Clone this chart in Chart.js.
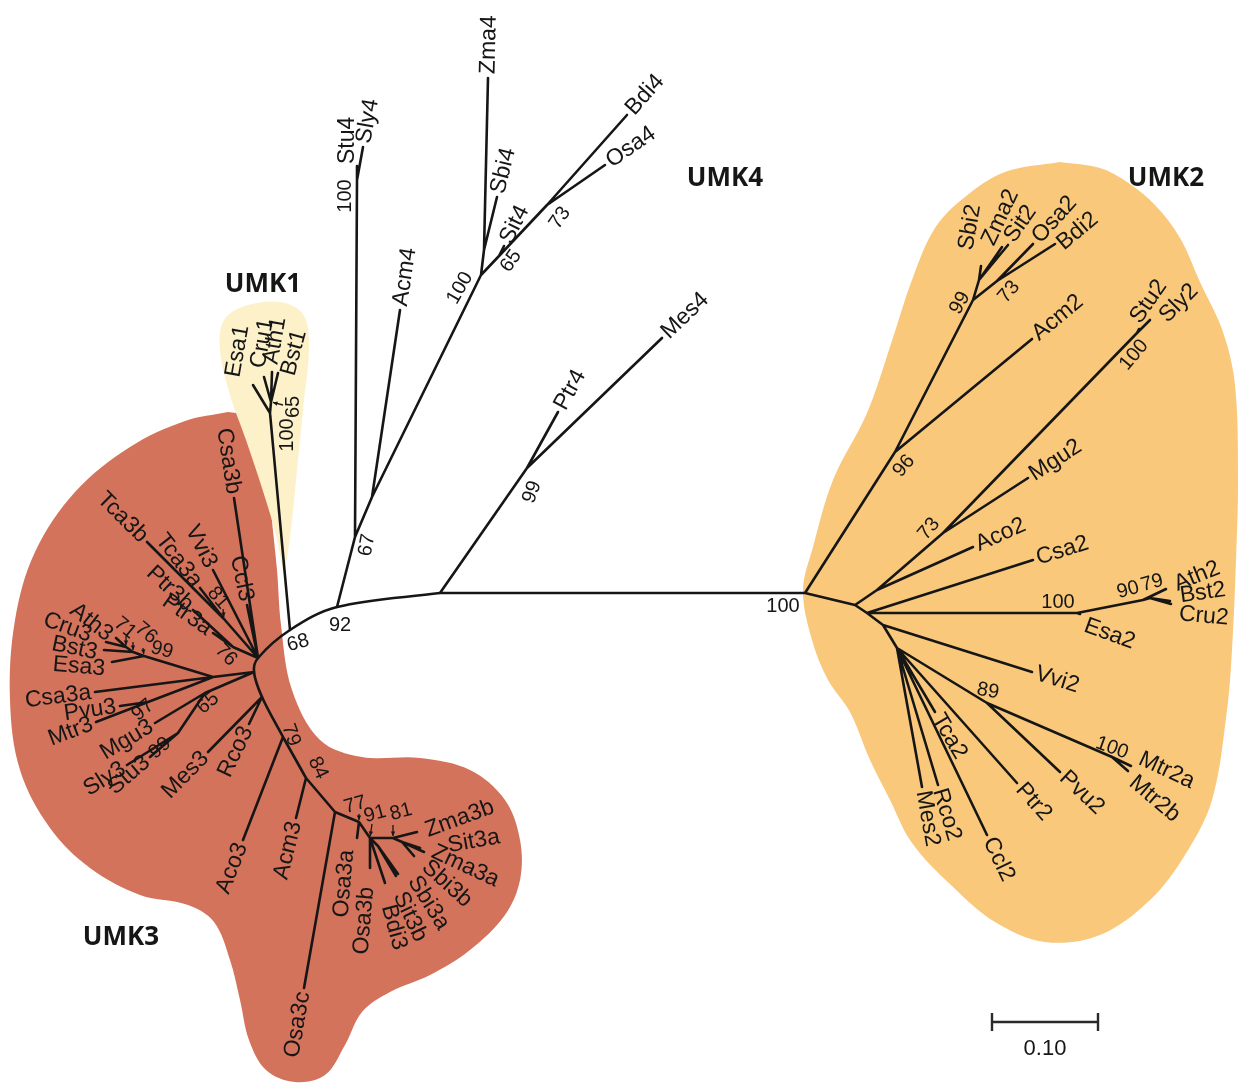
<!DOCTYPE html>
<html>
<head>
<meta charset="utf-8">
<script src="https://cdn.jsdelivr.net/npm/chart.js@4.4.1/dist/chart.umd.min.js"></script>
<style>
  html, body { margin: 0; padding: 0; background: #ffffff; }
  #wrap { width: 1239px; height: 1084px; }
</style>
</head>
<body>
<div id="wrap"><canvas id="tree" width="1239" height="1084"></canvas></div>
<script>
// Unrooted UMK tree. Each node: [name, parent, x, y] in layout units
// (y measured downward; the 0.10 scale bar spans 106 units).
// Internal nodes start with '#', everything else is a leaf.
const backboneNodes = [
  ['#b440', null, 440, 593],
  ['#b92', '#b440', 337, 607],
  ['#b68', '#b92', 290, 630],
  ['#b67', '#b92', 355, 537]
];
const umk4Nodes = [
  ['#p99', '#b440', 527, 468], ['Ptr4', '#p99', 558, 412], ['Mes4', '#p99', 662, 338],
  ['#s100', '#b67', 357, 180], ['Stu4', '#s100', 357, 166], ['Sly4', '#s100', 363, 147],
  ['#a4', '#b67', 372, 497], ['Acm4', '#a4', 400, 310],
  ['#z100', '#a4', 481, 275], ['#zs', '#z100', 484, 250],
  ['Zma4', '#zs', 488, 78], ['Sbi4', '#zs', 497, 197],
  ['#n65', '#z100', 499, 256], ['Sit4', '#n65', 504, 246],
  ['#n73', '#n65', 547, 205], ['Bdi4', '#n73', 627, 115], ['Osa4', '#n73', 605, 165]
];
const umk1Nodes = [
  ['#u100', '#b68', 270, 413], ['#u65', '#u100', 271, 402],
  ['Esa1', '#u100', 253, 385], ['Cru1', '#u65', 264, 377],
  ['Ath1', '#u65', 272, 372], ['Bst1', '#u65', 278, 373]
];
const umk3Nodes = [
  ['#h3', '#b68', 258, 658], ['Csa3b', '#h3', 234, 498], ['Ccl3', '#h3', 247, 605], ['Vvi3', '#h3', 213, 570],
  ['#t81', '#h3', 224, 619], ['Tca3b', '#t81', 147, 542], ['Tca3a', '#t81', 200, 588],
  ['#p76', '#h3', 233, 647], ['Ptr3b', '#p76', 193, 610], ['Ptr3a', '#p76', 213, 633],
  ['#hL', '#h3', 254, 672], ['#g', '#hL', 213, 677],
  ['#e99', '#g', 144, 656], ['Esa3', '#e99', 112, 662], ['#e76', '#e99', 133, 652],
  ['Bst3', '#e76', 104, 650], ['#e71', '#e76', 126, 647], ['Cru3', '#e71', 106, 642], ['Ath3', '#e71', 116, 638],
  ['Csa3a', '#g', 95, 692],
  ['#q', '#g', 190, 686], ['#p97', '#q', 148, 702], ['Pvu3', '#p97', 120, 706], ['Mtr3', '#p97', 96, 722],
  ['#k65', '#hL', 205, 693], ['Mgu3', '#k65', 155, 723], ['#s99', '#k65', 178, 733],
  ['Sly3', '#s99', 127, 765], ['Stu3', '#s99', 150, 757],
  ['#hM', '#hL', 262, 697], ['Mes3', '#hM', 208, 752], ['Rco3', '#hM', 249, 724],
  ['#n79', '#hM', 283, 737], ['Aco3', '#n79', 243, 840],
  ['#n84', '#n79', 306, 778], ['Acm3', '#n84', 296, 818],
  ['#n3c', '#n84', 335, 812], ['Osa3c', '#n3c', 304, 988],
  ['#n77', '#n3c', 359, 822], ['Osa3a', '#n77', 357, 838],
  ['#n91', '#n77', 370, 838], ['Osa3b', '#n91', 370, 868], ['Bdi3', '#n91', 385, 883],
  ['#nb', '#n91', 378, 846], ['Sit3b', '#nb', 396, 876], ['Sbi3a', '#nb', 398, 874],
  ['#n81', '#n91', 393, 838], ['Zma3b', '#n81', 417, 832], ['#ns', '#n81', 402, 842],
  ['Sit3a', '#ns', 420, 848], ['Zma3a', '#ns', 424, 852], ['Sbi3b', '#ns', 414, 856]
];
const umk2Nodes = [
  ['#b805', '#b440', 805, 593],
  ['#u96', '#b805', 895, 452], ['Acm2', '#u96', 1032, 339],
  ['#u99', '#u96', 973, 300], ['#us', '#u99', 979, 280],
  ['Sbi2', '#us', 981, 266], ['Zma2', '#us', 1002, 247], ['Sit2', '#us', 1008, 245],
  ['#u73', '#u99', 997, 281], ['Osa2', '#u73', 1033, 244], ['Bdi2', '#u73', 1055, 244],
  ['#h2a', '#b805', 855, 605], ['#k', '#h2a', 877, 590], ['Aco2', '#k', 973, 547],
  ['#g73', '#k', 943, 533], ['Mgu2', '#g73', 1028, 478],
  ['#st100', '#g73', 1137, 333], ['Stu2', '#st100', 1139, 329], ['Sly2', '#st100', 1150, 320],
  ['#h2b', '#h2a', 867, 613], ['Csa2', '#h2b', 1033, 560],
  ['#e100', '#h2b', 1077, 613], ['Esa2', '#e100', 1080, 614],
  ['#e90', '#e100', 1143, 600], ['Ath2', '#e90', 1166, 589],
  ['#e79', '#e90', 1150, 598], ['Bst2', '#e79', 1170, 601], ['Cru2', '#e79', 1171, 604],
  ['#h2c', '#h2b', 883, 625], ['Vvi2', '#h2c', 1032, 672],
  ['#f', '#h2c', 897, 648], ['Tca2', '#f', 935, 712], ['Mes2', '#f', 922, 787],
  ['Rco2', '#f', 938, 785], ['Ccl2', '#f', 987, 835], ['Ptr2', '#f', 1017, 783],
  ['#m89', '#f', 987, 703], ['Pvu2', '#m89', 1060, 772],
  ['#m100', '#m89', 1112, 757], ['Mtr2a', '#m100', 1131, 766], ['Mtr2b', '#m100', 1128, 771]
];

// Bootstrap support (%) at internal nodes
const supportValues = [
  ['#b805', 100], ['#p99', 99], ['#b92', 92], ['#b68', 68], ['#b67', 67],
  ['#s100', 100], ['#z100', 100], ['#n65', 65], ['#n73', 73],
  ['#u100', 100], ['#u65', 65],
  ['#t81', 81], ['#p76', 76], ['#e71', 71], ['#e76', 76], ['#e99', 99],
  ['#p97', 97], ['#k65', 65], ['#s99', 99], ['#n79', 79], ['#n84', 84],
  ['#n77', 77], ['#n91', 91], ['#n81', 81],
  ['#u96', 96], ['#u99', 99], ['#u73', 73], ['#g73', 73], ['#st100', 100],
  ['#e100', 100], ['#e90', 90], ['#e79', 79], ['#m89', 89], ['#m100', 100]
];

// Clade names
const cladeNames = ['UMK1', 'UMK2', 'UMK3', 'UMK4'];

// Scale bar
const scaleBarValue = 0.10;
const unitsPerSubstitution = 1060;

// ---- drawing setup (positions / styles) ----
// branches drawn as one smooth arc through the central part of the tree
const arcPath = ['#b440', '#b92', '#b68', '#h3', '#hL', '#hM', '#n79'];

// support label placement: [dx, dy, rotationDeg, arrowDx?, arrowDy?] relative to the node
const supportPlace = {
  '#b805': [-22, 13, 0], '#p99': [5, 24, -70], '#b92': [3, 18, 0], '#b68': [8, 13, -15],
  '#b67': [12, 8, -80], '#s100': [-12, 16, -90], '#z100': [-21, 13, -60],
  '#n65': [12, 5, -55], '#n73': [13, 13, -55],
  '#u100': [17, 22, -90], '#u65': [22, 5, -90, 12, 3],
  '#t81': [-6, -21, 50, -1, -10], '#p76': [-7, 8, 45],
  '#e71': [-1, -19, 40, 0, -11], '#e76': [13, -19, 40, 0, -10], '#e99': [18, -6, 15, -1, -8],
  '#p97': [-5, 8, -40], '#k65': [3, 10, -40], '#s99': [-18, 15, -40],
  '#n79': [8, -2, 70], '#n84': [12, -10, 65],
  '#n77': [-4, -17, -15, 0, -8], '#n91': [5, -24, -15, 2, -14], '#n81': [8, -26, -15, 0, -13],
  '#u96': [9, 14, -50], '#u99': [-13, 3, -60], '#u73': [12, 11, -50], '#g73': [-14, -4, -50],
  '#st100': [-3, 22, -50], '#e100': [-19, -11, 0], '#e90': [-15, -10, -15], '#e79': [2, -15, -15],
  '#m89': [1, -12, 10], '#m100': [0, -9, 20]
};

// leaf labels that do not simply follow their branch: [dx, dy, rotationDeg, align]
const leafPlace = {
  'Esa1': [-20, -8, -80, 'left'], 'Cru1': [-6, -9, -80, 'left'],
  'Ath1': [-1, -8, -80, 'left'], 'Bst1': [10, 2, -75, 'left'],
  'Stu4': [-9, -2, -90, 'left'],
  'Ath3': [-6, -1, 38, 'right'], 'Cru3': [-15, -6, 20, 'right'],
  'Bst3': [-7, 3, 12, 'right'], 'Esa3': [-7, 7, 5, 'right'],
  'Osa3a': [-10, 12, -85, 'right'], 'Osa3b': [-3, 19, -85, 'right'],
  'Bdi3': [3, 22, 75, 'left'], 'Sit3b': [3, 17, 65, 'left'], 'Sbi3a': [15, 4, 58, 'left'],
  'Sbi3b': [11, 8, 42, 'left'], 'Zma3a': [9, -1, 25, 'left'], 'Sit3a': [28, -2, -10, 'left'],
  'Zma3b': [9, -1, -20, 'left'],
  'Sbi2': [-15, -16, -80, 'left'], 'Zma2': [-14, -3, -65, 'left'], 'Sit2': [1, -5, -55, 'left'],
  'Osa2': [3, -4, -48, 'left'], 'Bdi2': [5, 2, -40, 'left'],
  'Stu2': [-4, -8, -55, 'left'], 'Sly2': [13, -1, -45, 'left'],
  'Ath2': [9, -4, -22, 'left'], 'Bst2': [10, -5, -8, 'left'], 'Cru2': [8, 10, 5, 'left'],
  'Esa2': [5, 11, 20, 'left'],
  'Mtr2a': [9, -8, 25, 'left'], 'Mtr2b': [4, 9, 40, 'left']
};

const cladePlace = { 'UMK1': [263, 285], 'UMK2': [1166, 179], 'UMK3': [121, 938], 'UMK4': [725, 179] };
const scaleBarAt = [992, 1022];

// shaded clade backgrounds (outline points)
const regionUMK1 = [[283,572],[276,535],[262,488],[246,440],[230,395],[220,350],[224,320],[245,306],[280,302],[303,314],[309,345],[304,400],[298,460],[292,520],[287,558],[283,572]];
const regionUMK3 = [[228,412],[258,418],[267,450],[271,510],[277,570],[281,625],[292,690],[320,740],[362,757],[420,758],[470,770],[505,800],[520,840],[520,880],[505,915],[470,950],[430,975],[390,992],[362,1012],[345,1045],[325,1075],[295,1082],[266,1070],[249,1040],[240,1000],[230,960],[214,922],[188,905],[140,895],[90,868],[50,828],[20,770],[10,700],[15,620],[35,552],[75,492],[130,447],[185,421],[228,412]];
const regionUMK2 = [[1060,162],[1100,168],[1127,182],[1155,205],[1180,238],[1200,282],[1223,332],[1235,385],[1238,480],[1236,560],[1232,650],[1227,710],[1212,800],[1185,855],[1150,900],[1100,935],[1045,942],[995,922],[952,886],[912,843],[890,800],[870,760],[850,712],[828,680],[812,640],[803,590],[813,547],[833,480],[867,413],[890,347],[912,280],[935,228],[965,197],[1005,172],[1060,162]];

const allNodes = [].concat(backboneNodes, umk4Nodes, umk1Nodes, umk3Nodes, umk2Nodes);
const node = {};
allNodes.forEach(n => { node[n[0]] = { name: n[0], parent: n[1], x: n[2], y: n[3] }; });

const arcEdges = new Set();
for (let i = 1; i < arcPath.length; i++) {
  arcEdges.add(arcPath[i - 1] + '>' + arcPath[i]);
  arcEdges.add(arcPath[i] + '>' + arcPath[i - 1]);
}

const branchData = [];
allNodes.forEach(n => {
  if (!n[1]) return;
  if (arcEdges.has(n[1] + '>' + n[0])) return;
  const p = node[n[1]];
  branchData.push({ x: p.x, y: p.y }, { x: n[2], y: n[3] }, { x: null, y: null });
});
const arcData = arcPath.map(k => ({ x: node[k].x, y: node[k].y }));

const barLen = scaleBarValue * unitsPerSubstitution;
const bx = scaleBarAt[0], by = scaleBarAt[1];
const scaleData = [
  { x: bx, y: by }, { x: bx + barLen, y: by }, { x: null, y: null },
  { x: bx, y: by - 9 }, { x: bx, y: by + 9 }, { x: null, y: null },
  { x: bx + barLen, y: by - 9 }, { x: bx + barLen, y: by + 9 }
];

const toPts = arr => arr.map(p => ({ x: p[0], y: p[1] }));
function regionSet(pts, color) {
  return {
    data: toPts(pts), showLine: true, fill: 'shape', backgroundColor: color,
    borderColor: 'rgba(0,0,0,0)', borderWidth: 0, pointRadius: 0, tension: 0.35, order: 10
  };
}

const INK = '#161616';
const LEAF_FONT = '23px "Liberation Sans", Arial, sans-serif';
const BOOT_FONT = '20px "Liberation Sans", Arial, sans-serif';
const CLADE_FONT = 'bold 26px "Open Sans", "Liberation Sans", sans-serif';

const labelPlugin = {
  id: 'treeLabels',
  afterDatasetsDraw(chart) {
    const ctx = chart.ctx, sx = chart.scales.x, sy = chart.scales.y;
    const P = (x, y) => [sx.getPixelForValue(x), sy.getPixelForValue(y)];
    function text(str, x, y, rot, align, font) {
      ctx.save();
      ctx.translate(x, y);
      ctx.rotate(rot * Math.PI / 180);
      ctx.font = font; ctx.fillStyle = INK;
      ctx.textAlign = align; ctx.textBaseline = 'middle';
      ctx.fillText(str, 0, 0);
      ctx.restore();
    }
    // leaf names
    allNodes.forEach(n => {
      if (n[0][0] === '#' || !n[1]) return;
      const p = node[n[1]];
      const [lx, ly] = P(n[2], n[3]);
      const [px, py] = P(p.x, p.y);
      const o = leafPlace[n[0]];
      if (o) { text(n[0], lx + o[0], ly + o[1], o[2], o[3], LEAF_FONT); return; }
      const th = Math.atan2(ly - py, lx - px);
      const gap = 4;
      const ax = lx + gap * Math.cos(th), ay = ly + gap * Math.sin(th);
      if (Math.cos(th) >= -0.02) text(n[0], ax, ay, th * 180 / Math.PI, 'left', LEAF_FONT);
      else text(n[0], ax, ay, th * 180 / Math.PI + 180, 'right', LEAF_FONT);
    });
    // support values and their pointer arrows
    supportValues.forEach(([k, v]) => {
      const nd = node[k], o = supportPlace[k];
      const [x, y] = P(nd.x, nd.y);
      text(String(v), x + o[0], y + o[1], o[2], 'center', BOOT_FONT);
      if (o.length > 3) {
        const x0 = x + o[3], y0 = y + o[4];
        const ang = Math.atan2(y - y0, x - x0);
        const x1 = x - 2 * Math.cos(ang), y1 = y - 2 * Math.sin(ang);
        ctx.save();
        ctx.strokeStyle = INK; ctx.fillStyle = INK; ctx.lineWidth = 1.3;
        ctx.beginPath(); ctx.moveTo(x0, y0); ctx.lineTo(x1, y1); ctx.stroke();
        ctx.beginPath();
        ctx.moveTo(x1, y1);
        ctx.lineTo(x1 - 5 * Math.cos(ang - 0.45), y1 - 5 * Math.sin(ang - 0.45));
        ctx.lineTo(x1 - 5 * Math.cos(ang + 0.45), y1 - 5 * Math.sin(ang + 0.45));
        ctx.closePath(); ctx.fill();
        ctx.restore();
      }
    });
    // clade names
    cladeNames.forEach(c => {
      const [x, y] = P(cladePlace[c][0], cladePlace[c][1]);
      text(c, x, y, 0, 'center', CLADE_FONT);
    });
    // scale bar caption
    const [cx, cy] = P(bx + barLen / 2, by + 27);
    text(scaleBarValue.toFixed(2), cx, cy, 0, 'center', '22px "Liberation Sans", Arial, sans-serif');
  }
};

new Chart(document.getElementById('tree'), {
  type: 'scatter',
  data: {
    datasets: [
      { data: branchData, showLine: true, borderColor: INK, borderWidth: 2.6, pointRadius: 0, tension: 0, spanGaps: false, order: 1, borderCapStyle: 'round' },
      { data: arcData, showLine: true, borderColor: INK, borderWidth: 2.6, pointRadius: 0, tension: 0.35, order: 1 },
      { data: scaleData, showLine: true, borderColor: '#2a2a2a', borderWidth: 2.4, pointRadius: 0, tension: 0, spanGaps: false, order: 1 },
      regionSet(regionUMK1, '#fcf1c9'),
      regionSet(regionUMK3, '#d4735b'),
      regionSet(regionUMK2, '#f9c87b')
    ]
  },
  options: {
    responsive: false,
    animation: false,
    devicePixelRatio: 1,
    events: [],
    layout: { padding: 0 },
    scales: {
      x: { type: 'linear', min: 0, max: 1239, display: false },
      y: { type: 'linear', min: 0, max: 1084, reverse: true, display: false }
    },
    plugins: { legend: { display: false }, tooltip: { enabled: false } }
  },
  plugins: [labelPlugin]
});
</script>
</body>
</html>
